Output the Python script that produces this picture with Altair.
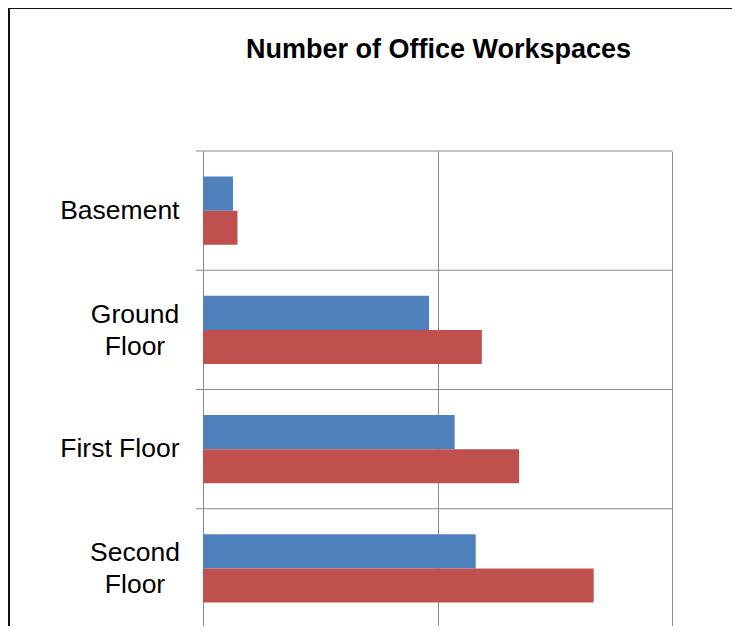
import altair as alt
import pandas as pd

# ---- data ----
floors = ["Basement", "Ground Floor", "First Floor", "Second Floor"]
two_line_floors = ["Ground Floor", "Second Floor"]
series_names = ["Series 1", "Series 2"]
series1_values = [12.8, 96.4, 107.3, 116.3]
series2_values = [14.7, 118.9, 134.8, 166.6]
series_colors = ["#4F81BD", "#C0504D"]
x_ticks = [0, 100, 200]
title_text = "Number of Office Workspaces"

rows = []
for f, a, b in zip(floors, series1_values, series2_values):
    rows.append({"floor": f, "series": series_names[0], "value": a})
    rows.append({"floor": f, "series": series_names[1], "value": b})
df = pd.DataFrame(rows)
cat_df = pd.DataFrame({"floor": floors})

W, H = 469, 477
FONT = "Liberation Sans"
GRID = "#8a8a8a"

two_line_list = "[" + ", ".join("'" + f + "'" for f in two_line_floors) + "]"
is_two_line = f"indexof({two_line_list}, datum.value) >= 0"
label_expr = f"{is_two_line} ? split(datum.value, ' ') : datum.value"

y_axis = alt.Axis(
    title=None,
    ticks=False,
    grid=False,
    domainColor=GRID,
    domainWidth=1,
    labelFont=FONT,
    labelFontSize=26.5,
    labelColor="#000000",
    labelAlign={"condition": {"test": is_two_line, "value": "center"}, "value": "right"},
    labelPadding={"condition": {"test": is_two_line, "value": 68.5}, "value": 24},
    labelOffset={"condition": {"test": is_two_line, "value": -15}, "value": 0},
    labelLineHeight=32,
    labelLimit=400,
    labelExpr=label_expr,
)

bars = alt.Chart(df).mark_bar().encode(
    y=alt.Y(
        "floor:N",
        sort=floors,
        scale=alt.Scale(paddingInner=0, paddingOuter=0),
        axis=y_axis,
    ),
    yOffset=alt.YOffset(
        "series:N", sort=series_names,
        scale=alt.Scale(paddingInner=0, paddingOuter=0.743),
    ),
    x=alt.X(
        "value:Q",
        scale=alt.Scale(domain=[x_ticks[0], x_ticks[-1]], nice=False),
        axis=alt.Axis(
            title=None,
            values=x_ticks,
            labels=False,
            ticks=False,
            domain=False,
            grid=True,
            gridColor=GRID,
            gridWidth=1,
            gridOpacity=1,
        ),
    ),
    color=alt.Color(
        "series:N",
        sort=series_names,
        scale=alt.Scale(domain=series_names, range=series_colors),
        legend=None,
    ),
)

separators = alt.Chart(cat_df).mark_rule(color=GRID, strokeWidth=1).encode(
    y=alt.Y("floor:N", sort=floors, bandPosition=0, axis=y_axis),
    x=alt.value(-7),
    x2=alt.value(W),
)

title_df = pd.DataFrame({"t": [title_text]})
title = alt.Chart(title_df).mark_text(
    font=FONT, fontSize=27, fontWeight="bold", color="#000000",
    align="center", baseline="alphabetic",
).encode(
    text="t:N",
    x=alt.value(235.5),
    y=alt.value(-93),
)

frame_top = alt.Chart(title_df).mark_rule(color="#111111", strokeWidth=2).encode(
    x=alt.value(-195), x2=alt.value(W + 60), y=alt.value(-143),
)
frame_left = alt.Chart(title_df).mark_rule(color="#111111", strokeWidth=2).encode(
    x=alt.value(-194), y=alt.value(-143), y2=alt.value(H),
)

chart = alt.layer(separators, bars, title, frame_top, frame_left).properties(
    width=W,
    height=H,
    padding={"left": 195, "top": 143, "right": 60, "bottom": -2},
    autosize=alt.AutoSizeParams(type="none"),
    background="#ffffff",
).configure_view(strokeWidth=0)

chart.save("out.html", embed_options={"renderer": "svg", "actions": False})
